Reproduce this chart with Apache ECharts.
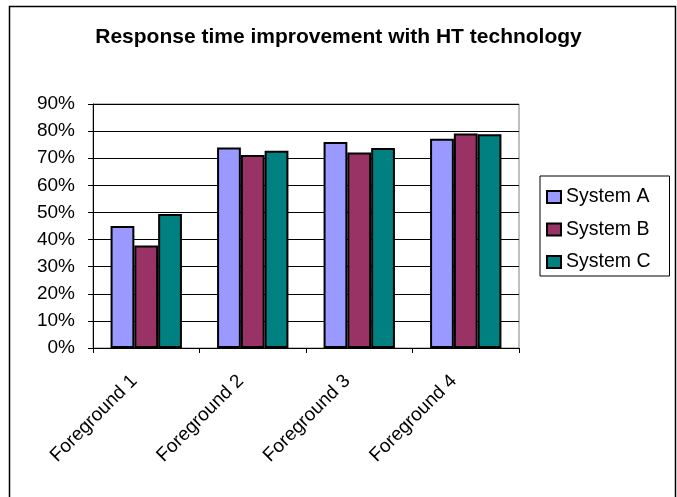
<!DOCTYPE html>
<html>
<head>
<meta charset="utf-8">
<script src="https://cdn.jsdelivr.net/npm/echarts@6/dist/echarts.min.js"></script>
<style>
html,body{margin:0;padding:0;background:#fff;}
#chart{width:677px;height:497px;}
</style>
</head>
<body>
<div id="chart"></div>
<script>
const categories = ["Foreground 1", "Foreground 2", "Foreground 3", "Foreground 4"];
const seriesNames = ["System A", "System B", "System C"];
const systemA = [45, 74, 76, 77.2];
const systemB = [37.8, 71.2, 72.1, 79.1];
const systemC = [49.4, 72.8, 73.8, 78.8];
const yTicks = [0, 10, 20, 30, 40, 50, 60, 70, 80, 90];
const colors = ["#9999FF", "#993366", "#008080"];

const chart = echarts.init(document.getElementById('chart'), null, {renderer: 'canvas'});
const font = 'Liberation Sans, Arial, sans-serif';
const seriesData = [systemA, systemB, systemC];

chart.setOption({
  animation: false,
  backgroundColor: '#fff',
  textStyle: {fontFamily: font},
  title: {
    text: 'Response time improvement with HT technology',
    left: 'center',
    top: 22,
    textStyle: {fontSize: 21, fontWeight: 'bold', color: '#000', fontFamily: font}
  },
  graphic: [{
    type: 'rect',
    shape: {x: 9.5, y: 6.5, width: 666, height: 520},
    style: {fill: 'none', stroke: '#000', lineWidth: 1.5},
    silent: true
  }],
  legend: {
    orient: 'vertical',
    left: 540,
    top: 176,
    padding: [11, 19, 4, 6],
    itemWidth: 14,
    itemHeight: 12,
    itemGap: 12.5,
    borderColor: '#000',
    borderWidth: 1,
    icon: 'rect',
    textStyle: {fontSize: 19.5, color: '#000', fontFamily: font},
    data: seriesNames
  },
  grid: {
    left: 93, top: 104, right: 158, bottom: 149,
    show: true, borderColor: '#808080', borderWidth: 1, backgroundColor: '#fff'
  },
  xAxis: {
    type: 'category',
    data: categories,
    axisLine: {lineStyle: {color: '#000', width: 1}},
    axisTick: {show: true, length: 5, lineStyle: {color: '#000'}},
    axisLabel: {rotate: 45, fontSize: 19, color: '#000', margin: 18, padding: [0, 17, 0, 0], fontFamily: font}
  },
  yAxis: {
    type: 'value',
    min: yTicks[0],
    max: yTicks[yTicks.length - 1],
    interval: 10,
    axisLine: {show: true, lineStyle: {color: '#000', width: 1}},
    axisTick: {show: true, length: 5, lineStyle: {color: '#000'}},
    splitLine: {lineStyle: {color: '#000', width: 1}},
    axisLabel: {formatter: v => v + '%', fontSize: 19, color: '#000', margin: 18, fontFamily: font}
  },
  series: seriesNames.map((n, i) => ({
    name: n,
    type: 'bar',
    data: seriesData[i],
    barGap: '0%',
    barCategoryGap: '33%',
    itemStyle: {color: colors[i], borderColor: '#000', borderWidth: 2}
  }))
});
</script>
</body>
</html>
